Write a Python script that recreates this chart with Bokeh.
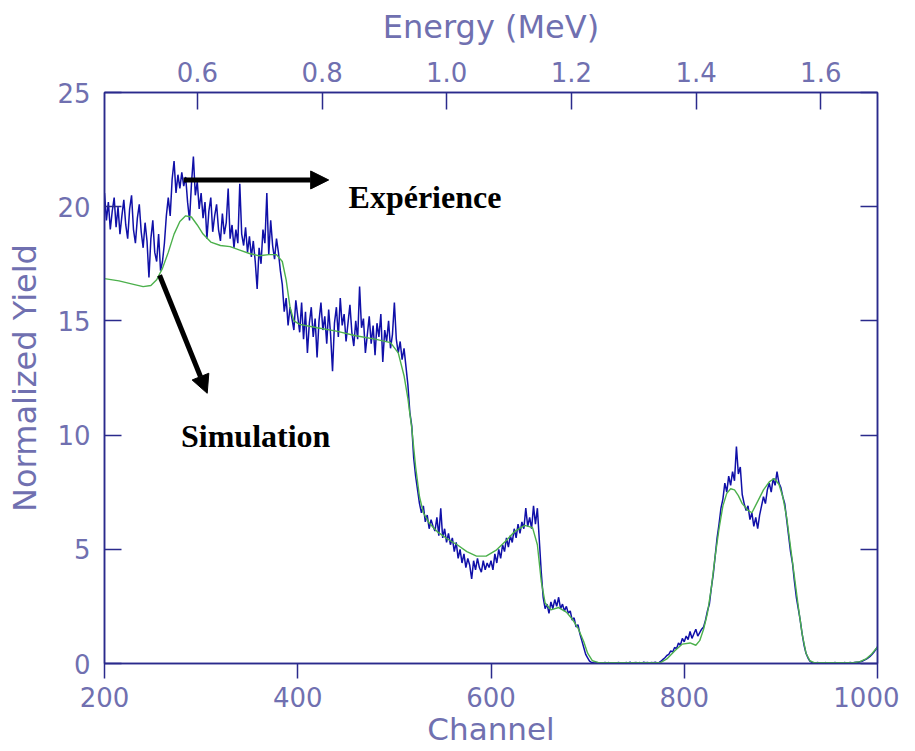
from bokeh.plotting import figure
from bokeh.models import LinearAxis, Range1d, FixedTicker, Arrow, NormalHead, Label
from bokeh.embed import file_html
from bokeh.resources import INLINE

# ---------------- data ----------------
channels = list(range(200, 1001, 2))
exp_yield = [
    20.6, 19.4, 20.2, 19.0, 19.8, 20.4, 19.1, 20.0, 18.8, 19.6,
    20.3, 19.2, 18.6, 19.9, 20.5, 19.0, 18.4, 19.5, 20.1, 18.9,
    18.2, 19.3, 18.5, 16.9, 18.6, 19.4, 18.0, 17.6, 18.8, 17.2,
    17.6, 18.4, 19.6, 20.4, 19.6, 21.2, 22.0, 20.6, 21.4, 20.8,
    21.5, 20.9, 21.3, 20.2, 19.4, 21.0, 22.2, 20.5, 21.1, 19.9,
    20.6, 19.5, 20.2, 18.6, 19.8, 20.4, 18.9, 19.6, 20.1, 19.0,
    18.5, 19.7, 18.8, 19.3, 20.8, 18.6, 19.2, 18.2, 19.0, 18.4,
    21.0, 18.8, 18.3, 19.1, 18.0, 18.7, 17.8, 18.5, 17.6, 16.4,
    18.2, 17.5, 19.0, 18.4, 20.6, 17.9, 19.4, 18.3, 17.7, 18.6,
    18.0, 17.2, 16.6, 15.4, 16.0, 14.8, 15.6, 15.1, 14.6, 15.9,
    15.2, 14.5, 15.8, 14.2, 15.4, 13.6, 14.9, 15.6, 14.3, 15.1,
    13.4, 15.0, 15.8, 14.6, 15.2, 14.0, 15.5, 14.4, 12.8, 14.9,
    15.6, 14.3, 16.0, 14.8, 15.3, 14.1, 14.9, 15.7, 14.5, 13.9,
    15.0, 14.2, 16.5, 14.7, 15.1, 13.6, 14.4, 15.2, 14.0, 14.8,
    13.5, 14.9, 14.3, 15.3, 13.2, 14.6, 14.1, 15.0, 13.8, 14.4,
    15.8, 14.2, 13.6, 14.1, 13.3, 13.8, 13.0, 12.2, 11.0, 10.4,
    9.0, 8.2, 7.6, 7.0, 6.6, 6.9, 6.2, 6.5, 5.9, 6.3,
    6.0, 5.8, 6.4, 5.6, 6.8, 5.5, 5.9, 5.3, 5.7, 5.2,
    5.5, 4.9, 5.3, 4.6, 5.0, 4.4, 4.8, 4.2, 4.6, 4.3,
    3.7, 4.5, 4.1, 4.6, 4.2, 4.0, 4.5, 4.1, 4.4, 4.2,
    4.5, 4.1, 4.8, 4.4, 5.0, 4.6, 5.2, 4.9, 5.5, 5.1,
    5.6, 5.3, 5.9, 5.5, 6.1, 5.7, 6.2, 5.9, 6.8, 6.0,
    6.4, 5.9, 6.9, 6.1, 6.8, 5.4, 4.0, 2.9, 2.4, 2.6,
    2.2, 2.7, 2.4, 2.8, 2.5, 2.9, 2.4, 2.6, 2.3, 2.5,
    2.2, 2.3, 1.9, 2.0, 1.6, 1.7, 1.3, 1.0, 0.7, 0.4,
    0.25, 0.1, 0.05, 0.03, 0.02, 0.04, 0.01, 0.03, 0.02, 0.05,
    0.02, 0.04, 0.01, 0.03, 0.0, 0.02, 0.05, 0.01, 0.03, 0.02,
    0.04, 0.02, 0.06, 0.01, 0.03, 0.05, 0.02, 0.04, 0.01, 0.06,
    0.03, 0.05, 0.02, 0.04, 0.03, 0.06, 0.02, 0.05, 0.1, 0.18,
    0.25, 0.35, 0.4, 0.55, 0.5, 0.7, 0.65, 0.9, 0.8, 1.1,
    0.95, 1.2, 1.05, 1.4, 1.1, 1.3, 1.5, 1.2, 1.35, 1.5,
    1.6, 1.9, 2.3, 2.6, 3.3, 3.9, 4.7, 5.5, 6.1, 6.8,
    7.2, 7.9, 7.5, 8.2, 7.8, 8.4, 8.0, 9.5, 8.3, 8.6,
    7.4, 7.0, 6.7, 6.9, 6.3, 6.6, 6.0, 6.4, 5.9, 6.5,
    6.9, 7.3, 7.0, 7.6, 7.9, 7.5, 8.1, 7.8, 8.4, 7.9,
    7.7, 7.3, 7.0, 6.3, 5.6, 4.9, 4.4, 3.6, 2.9, 2.4,
    1.9, 1.3, 0.8, 0.45, 0.25, 0.1, 0.05, 0.03, 0.02, 0.04,
    0.02, 0.03, 0.01, 0.04, 0.02, 0.03, 0.01, 0.02, 0.04, 0.02,
    0.03, 0.01, 0.02, 0.04, 0.02, 0.03, 0.05, 0.02, 0.04, 0.06,
    0.05, 0.08, 0.1, 0.14, 0.18, 0.24, 0.3, 0.38, 0.48, 0.6,
    0.72,
]

sim_channel = [200, 215, 230, 240, 248, 254, 260, 266, 272, 278, 284, 290, 296,
               302, 310, 320, 330, 340, 350, 360, 370, 378, 384, 388, 392, 396,
               402, 420, 440, 460, 480, 496, 504, 510, 514, 518, 522, 526, 530,
               536, 545, 555, 565, 575, 585, 595, 605, 615, 625, 635, 643, 648,
               652, 656, 662, 670, 678, 684, 690, 696, 700, 705, 712, 775, 782,
               790, 798, 806, 812, 816, 820, 824, 828, 832, 836, 840, 844, 848,
               852, 856, 860, 866, 870, 876, 882, 888, 893, 898, 902, 906, 910,
               914, 918, 922, 926, 930, 935, 975, 982, 988, 994, 1000]
sim_yield = [16.85, 16.75, 16.6, 16.5, 16.55, 16.8, 17.3, 18.0, 18.8, 19.35, 19.6,
             19.55, 19.2, 18.8, 18.45, 18.3, 18.25, 18.1, 17.95, 17.85, 17.9, 17.9,
             17.6, 16.8, 15.6, 15.0, 14.85, 14.7, 14.55, 14.35, 14.2, 14.05, 13.6,
             12.6, 11.6, 10.3, 8.6, 7.3, 6.6, 6.15, 5.75, 5.45, 5.2, 4.9, 4.7, 4.7,
             4.95, 5.35, 5.8, 6.05, 5.95, 5.2, 3.6, 2.65, 2.35, 2.45, 2.25, 1.95,
             1.55, 0.95, 0.45, 0.12, 0.03, 0.03, 0.2, 0.55, 0.85, 0.9, 0.8, 1.0,
             1.5, 2.2, 3.3, 4.7, 5.9, 6.9, 7.45, 7.65, 7.6, 7.35, 7.0, 6.7, 6.6,
             7.1, 7.6, 7.95, 8.1, 7.85, 7.3, 6.4, 5.1, 3.8, 2.5, 1.3, 0.45, 0.12,
             0.03, 0.03, 0.08, 0.2, 0.42, 0.72]

channel_ticks = [200, 400, 600, 800, 1000]
yield_ticks = [0, 5, 10, 15, 20, 25]
energy_ticks = [0.6, 0.8, 1.0, 1.2, 1.4, 1.6]
energy_labels = ["0.6", "0.8", "1.0", "1.2", "1.4", "1.6"]
energy_start, energy_end = 0.451, 1.691

# annotation placement (data coordinates)
exp_arrow = (281.8, 21.17, 432.0, 21.17)
sim_arrow = (257.0, 17.0, 306.3, 11.83)
exp_label = (452.6, 20.42, "Expérience")
sim_label = (279.2, 9.95, "Simulation")

# ---------------- style ----------------
AX = "#2a2a8c"
LBL = "#7070b0"
TICK_FONT = "DejaVu Sans"

p = figure(frame_width=773, frame_height=571,
           x_range=Range1d(200, 1000), y_range=Range1d(0, 25),
           x_axis_type=None, y_axis_type=None,
           output_backend="svg", toolbar_location=None,
           min_border_left=104, min_border_top=92, min_border_bottom=84,
           min_border_right=22, background_fill_color="white",
           border_fill_color="white")
p.grid.visible = False
p.outline_line_color = AX
p.outline_line_width = 1.5
p.extra_x_ranges = {"energy": Range1d(energy_start, energy_end)}


def style(ax, tin, tout, size="26px"):
    ax.axis_line_color = AX
    ax.axis_line_width = 1.5
    ax.major_tick_line_color = AX
    ax.major_tick_line_width = 1.5
    ax.major_tick_in = tin
    ax.major_tick_out = tout
    ax.minor_tick_line_color = None
    ax.major_label_text_color = LBL
    ax.major_label_text_font = TICK_FONT
    ax.major_label_text_font_size = size
    ax.axis_label_text_color = LBL
    ax.axis_label_text_font = TICK_FONT
    ax.axis_label_text_font_size = "32px"
    ax.axis_label_text_font_style = "normal"


bottom = LinearAxis(ticker=FixedTicker(ticks=channel_ticks), axis_label="Channel")
style(bottom, 0, 15)
bottom.axis_label_text_font_size = "31px"
bottom.major_label_standoff = 8
bottom.axis_label_standoff = 1
p.add_layout(bottom, "below")

left = LinearAxis(ticker=FixedTicker(ticks=yield_ticks), axis_label="Normalized Yield")
style(left, 17, 0)
left.major_label_standoff = 14
left.axis_label_standoff = 10
p.add_layout(left, "left")

top = LinearAxis(x_range_name="energy", ticker=FixedTicker(ticks=energy_ticks),
                 axis_label="Energy (MeV)",
                 major_label_overrides={t: l for t, l in zip(energy_ticks, energy_labels)})
style(top, 17, 0)
top.major_label_standoff = 11
top.axis_label_standoff = 13
p.add_layout(top, "above")

right = LinearAxis(ticker=FixedTicker(ticks=yield_ticks),
                   major_label_overrides={t: "" for t in yield_ticks})
style(right, 17, 0)
right.major_label_standoff = 0
p.add_layout(right, "right")

# ---------------- data glyphs ----------------
p.line(channels, exp_yield, line_color="#1010a8", line_width=1.5)
p.line(sim_channel, sim_yield, line_color="#4cb04c", line_width=1.4)

# ---------------- annotations ----------------
for (x0, y0, x1, y1) in (exp_arrow, sim_arrow):
    p.add_layout(Arrow(end=NormalHead(size=18, fill_color="black", line_color="black"),
                       x_start=x0, y_start=y0, x_end=x1, y_end=y1,
                       line_color="black", line_width=5))

for (x, y, t) in (exp_label, sim_label):
    p.add_layout(Label(x=x, y=y, text=t, text_font="Liberation Serif",
                       text_font_style="bold", text_font_size="32px",
                       text_color="black", text_baseline="alphabetic"))

open("out.html", "w").write(file_html(p, INLINE))
